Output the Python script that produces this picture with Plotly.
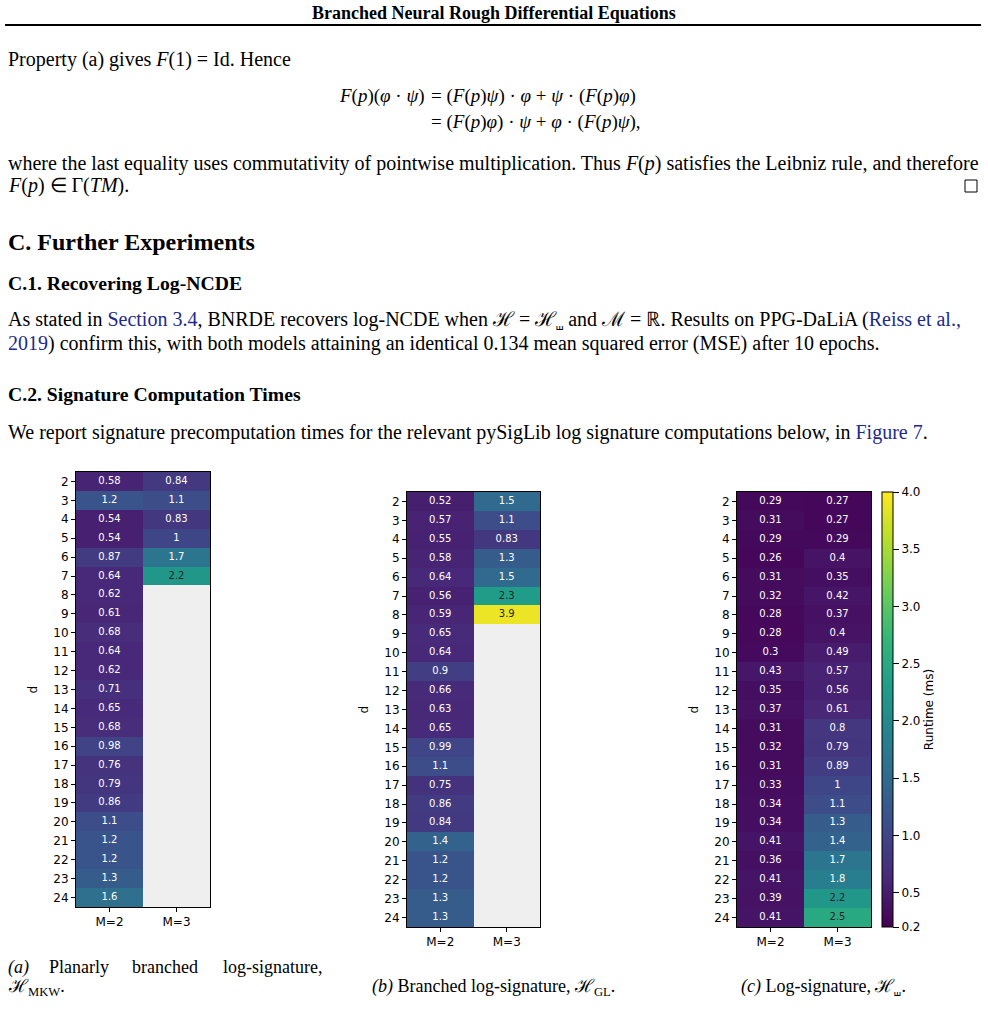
import math
import plotly.graph_objects as go

# ---- data (runtime in ms) ----
d_values = list(range(2, 25))
m_labels = ["M=2", "M=3"]

# (a) planarly branched log-signature, H_MKW
mkw_m2 = [0.58, 1.2, 0.54, 0.54, 0.87, 0.64, 0.62, 0.61, 0.68, 0.64, 0.62, 0.71,
          0.65, 0.68, 0.98, 0.76, 0.79, 0.86, 1.1, 1.2, 1.2, 1.3, 1.6]
mkw_m3 = [0.84, 1.1, 0.83, 1.0, 1.7, 2.2]

# (b) branched log-signature, H_GL
gl_m2 = [0.52, 0.57, 0.55, 0.58, 0.64, 0.56, 0.59, 0.65, 0.64, 0.9, 0.66, 0.63,
         0.65, 0.99, 1.1, 0.75, 0.86, 0.84, 1.4, 1.2, 1.2, 1.3, 1.3]
gl_m3 = [1.5, 1.1, 0.83, 1.3, 1.5, 2.3, 3.9]

# (c) log-signature, H_shuffle
sh_m2 = [0.29, 0.31, 0.29, 0.26, 0.31, 0.32, 0.28, 0.28, 0.3, 0.43, 0.35, 0.37,
         0.31, 0.32, 0.31, 0.33, 0.34, 0.34, 0.41, 0.36, 0.41, 0.39, 0.41]
sh_m3 = [0.27, 0.27, 0.29, 0.4, 0.35, 0.42, 0.37, 0.4, 0.49, 0.57, 0.56, 0.61,
         0.8, 0.79, 0.89, 1.0, 1.1, 1.3, 1.4, 1.7, 1.8, 2.2, 2.5]

cbar_ticks = [0.2, 0.5, 1.0, 1.5, 2.0, 2.5, 3.0, 3.5, 4.0]
zmin, zmax = 0.2, 4.0

W, H = 988, 1013
SERIF = "Liberation Serif"
SANS = "DejaVu Sans"
LINK = "#1c2a8c"


def px(x):
    return x / W


def py(y):
    return 1 - y / H


def fmt(v):
    return "{:.2g}".format(v)


def grid(col2, col3):
    z = []
    for i in range(len(d_values)):
        a = col2[i] if i < len(col2) else None
        b = col3[i] if i < len(col3) else None
        z.append([a, b])
    return z


fig = go.Figure()

panels = [
    # (m2, m3, axis suffix, left, right, top, bottom, label x)
    (mkw_m2, mkw_m3, "", 76, 210, 472, 907, 32),
    (gl_m2, gl_m3, "2", 407, 540, 492, 927, 363),
    (sh_m2, sh_m3, "3", 737, 871, 492, 927, 693),
]

for k, (m2, m3, sfx, l, r, t, b, lab_x) in enumerate(panels):
    z = grid(m2, m3)
    hm = dict(z=z, x=[0, 1], y=d_values, colorscale="Viridis",
              zmin=zmin, zmax=zmax, xaxis="x" + sfx, yaxis="y" + sfx,
              showscale=(k == 2), hoverongaps=False)
    if k == 2:
        hm["colorbar"] = dict(
            x=px(882), xanchor="left", xpad=0,
            y=py(b), yanchor="bottom", ypad=0,
            len=b - t, lenmode="pixels",
            thickness=11, thicknessmode="pixels",
            outlinewidth=1, outlinecolor="black",
            tickvals=cbar_ticks, tickformat=".1f",
            ticks="outside", ticklen=6, tickcolor="black",
            tickfont=dict(family=SANS, size=12, color="black"),
            title=dict(text="Runtime (ms)", side="right",
                       font=dict(family=SANS, size=12, color="black")),
        )
    fig.add_trace(go.Heatmap(**hm))

    # cell annotations, dark text on the bright cells
    tx, ty, tt, tc = [], [], [], []
    for j, col in enumerate((m2, m3)):
        for i, v in enumerate(col):
            tx.append(j)
            ty.append(d_values[i])
            tt.append(fmt(v))
            tc.append("#262626" if v > 2.0 else "white")
    fig.add_trace(go.Scatter(x=tx, y=ty, text=tt, mode="text",
                             textfont=dict(family=SANS, size=10, color=tc),
                             xaxis="x" + sfx, yaxis="y" + sfx,
                             showlegend=False, hoverinfo="skip"))

    axis_common = dict(showline=True, linecolor="black", linewidth=1, mirror=True,
                       ticks="outside", ticklen=4, tickcolor="black",
                       tickfont=dict(family=SANS, size=12, color="black"),
                       showgrid=False, zeroline=False, fixedrange=True)
    fig.layout["xaxis" + sfx] = dict(domain=[px(l), px(r)], range=[-0.5, 1.5],
                                     tickvals=[0, 1], ticktext=m_labels,
                                     anchor="y" + sfx, **axis_common)
    fig.layout["yaxis" + sfx] = dict(domain=[py(b), py(t)], range=[24.5, 1.5],
                                     tickvals=d_values, anchor="x" + sfx,
                                     **axis_common)
    fig.add_annotation(x=px(lab_x), y=py((t + b) / 2), xref="paper", yref="paper",
                       text="d", textangle=-90, showarrow=False,
                       xanchor="center", yanchor="middle",
                       font=dict(family=SANS, size=12, color="black"))

# ---- page text ----
texts = [
    # (x, y, text, size, anchor)
    (494, 13, "<b>Branched Neural Rough Differential Equations</b>", 18, "center"),
    (8, 59, "Property (a) gives <i>F</i>(1) = Id. Hence", 20, "left"),
    (425, 96, "<i>F</i>(<i>p</i>)(<i>φ</i> · <i>ψ</i>)", 19, "right"),
    (431, 96, "= (<i>F</i>(<i>p</i>)<i>ψ</i>) · <i>φ</i> + <i>ψ</i> · (<i>F</i>(<i>p</i>)<i>φ</i>)", 19, "left"),
    (431, 122, "= (<i>F</i>(<i>p</i>)<i>φ</i>) · <i>ψ</i> + <i>φ</i> · (<i>F</i>(<i>p</i>)<i>ψ</i>),", 19, "left"),
    (8, 163, "where the last equality uses commutativity of pointwise multiplication. "
             "Thus <i>F</i>(<i>p</i>) satisfies the Leibniz rule, and therefore", 20, "left"),
    (8, 186, "<i>F</i>(<i>p</i>) ∈ Γ(<i>TM</i>).", 20, "left"),
    (8, 242, "<b>C. Further Experiments</b>", 24, "left"),
    (8, 283, "<b>C.1. Recovering Log-NCDE</b>", 19.7, "left"),
    (8, 320, "As stated in <span style='color:%s'>Section 3.4</span>, BNRDE recovers log-NCDE "
             "when ℋ = ℋ<sub>⧢</sub> and ℳ = ℝ. Results on PPG-DaLiA "
             "(<span style='color:%s'>Reiss et al.,</span>" % (LINK, LINK), 20, "left"),
    (8, 344, "<span style='color:%s'>2019</span>) confirm this, with both models attaining an "
             "identical 0.134 mean squared error (MSE) after 10 epochs." % LINK, 20, "left"),
    (8, 394, "<b>C.2. Signature Computation Times</b>", 19.7, "left"),
    (8, 432, "We report signature precomputation times for the relevant pySigLib log "
             "signature computations below, in <span style='color:%s'>Figure 7</span>." % LINK,
     20, "left"),
    # captions
    (8, 967, "<i>(a)</i>", 18, "left"),
    (49, 967, "Planarly", 18, "left"),
    (132, 967, "branched", 18, "left"),
    (322, 967, "log-signature,", 18, "right"),
    (8, 987, "ℋ<sub>MKW</sub>.", 18, "left"),
    (493, 987, "<i>(b)</i> Branched log-signature, ℋ<sub>GL</sub>.", 18, "center"),
    (823, 987, "<i>(c)</i> Log-signature, ℋ<sub>⧢</sub>.", 18, "center"),
]
for x, y, s, size, anchor in texts:
    fig.add_annotation(x=px(x), y=py(y), xref="paper", yref="paper", text=s,
                       xanchor=anchor, yanchor="middle", showarrow=False,
                       borderpad=0, borderwidth=0,
                       font=dict(family=SERIF, size=size, color="black"))

# header rule and end-of-proof box
fig.add_shape(type="line", xref="paper", yref="paper", x0=px(5), x1=px(981),
              y0=py(25), y1=py(25), line=dict(color="black", width=2))
fig.add_shape(type="rect", xref="paper", yref="paper", x0=px(965), x1=px(977),
              y0=py(192), y1=py(180), line=dict(color="black", width=1))

fig.update_layout(width=W, height=H, margin=dict(l=0, r=0, t=0, b=0),
                  paper_bgcolor="white", plot_bgcolor="#efefef",
                  showlegend=False)

fig.write_html("out.html", config={"displayModeBar": False},
               post_script="document.body.style.margin='0';")
